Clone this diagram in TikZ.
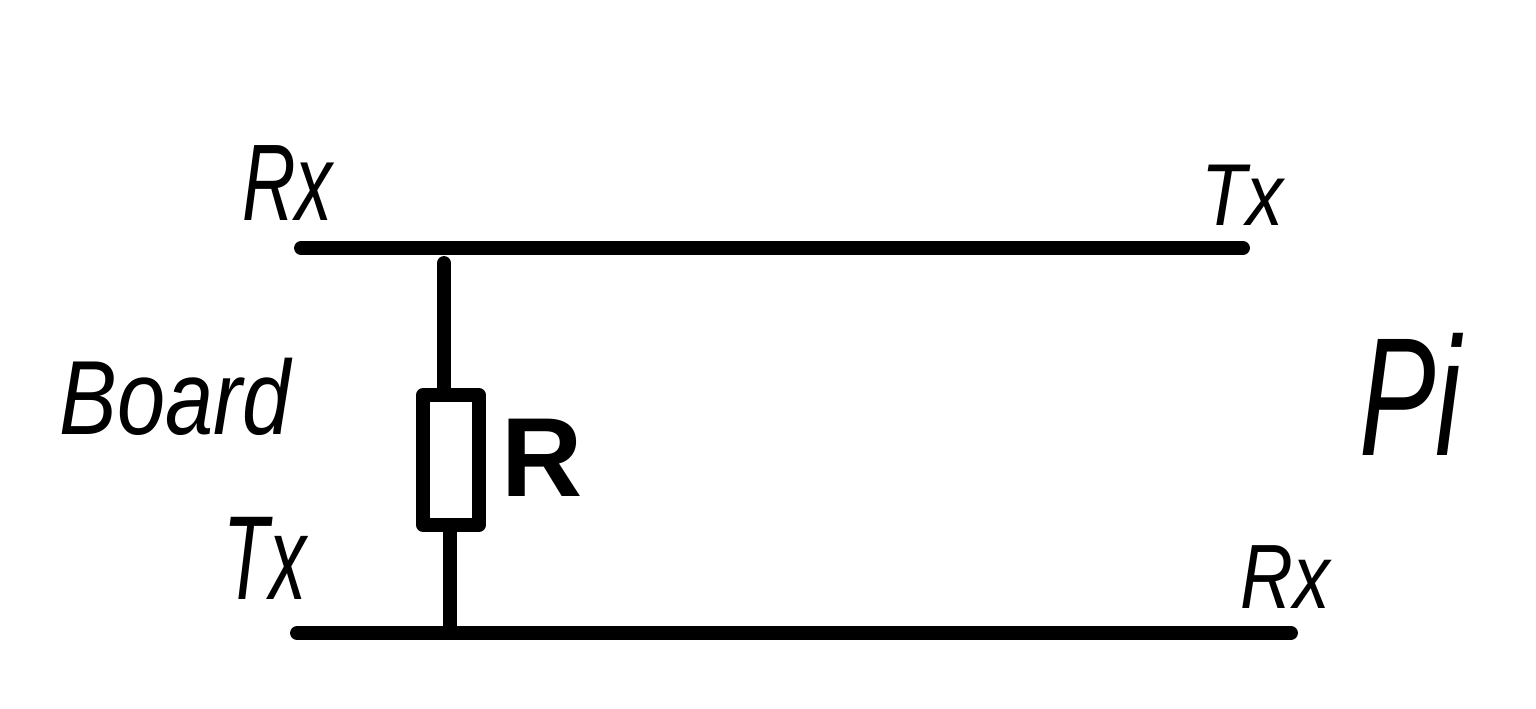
\documentclass[tikz,border=0pt]{standalone}
\usepackage{fontspec}
\setmainfont{Liberation Sans}
\tikzset{
    wire/.style={line width=7.9pt,line cap=round},
    resbox/.style={draw,line width=7.9pt,line join=round,minimum width=1.12cm,minimum height=2.6cm,inner sep=0pt},
    lab/.style={inner sep=0pt,transform shape,font=\fontsize{#1}{#1}\selectfont\itshape},
}

\begin{document}
\begin{tikzpicture}
\useasboundingbox (0,0) rectangle (30.72,14.16);
\coordinate (toprxend) at (6.02,9.2);
\coordinate (toptxend) at (24.86,9.2);
\coordinate (botrxend) at (25.82,1.5);
\coordinate (bottxend) at (5.94,1.5);
\coordinate (topwire) at (8.88,8.9);
\coordinate (botwire) at (9,1.5);
\node[resbox] (rbox) at (9.02,4.96) {};

\draw[wire] (toprxend) -- (toptxend);
\draw[wire] (bottxend) -- (botrxend);
\draw[wire] (topwire) -- (topwire |- rbox.north);
\draw[wire,line cap=butt] (botwire) -- (botwire |- rbox.south);

\node[lab=62,xscale=.68] (rxboard) at (5.75,10.5) {Rx};
\node[lab=50,xscale=.84] (txpi) at (24.85,10.25) {Tx};
\node[lab=68,xscale=.62] (txboard) at (5.3,3.0) {Tx};
\node[lab=52,xscale=.8] (rxpi) at (25.7,2.62) {Rx};
\node[lab=60,xscale=.82] (board) at (3.5,6.22) {Board};
\node[lab=96,xscale=.68] (pi) at (28.2,6.28) {Pi};
\node[inner sep=0pt,font=\fontsize{64}{64}\selectfont\bfseries] (rname) at (10.85,5.0) {R};
\end{tikzpicture}
\end{document}
